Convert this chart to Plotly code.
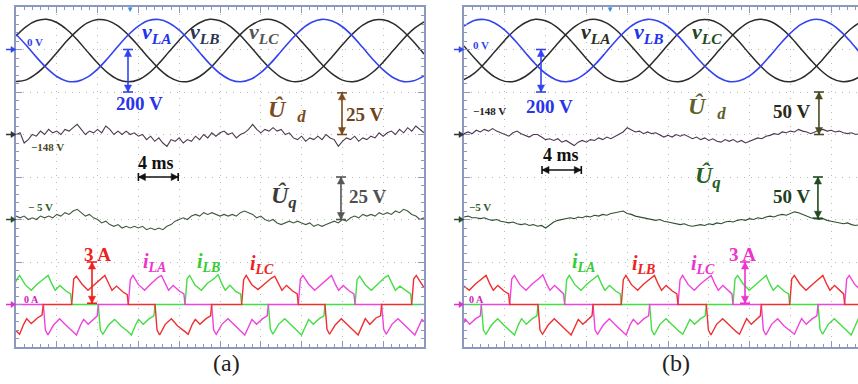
import plotly.graph_objects as go

# ---------------------------------------------------------------- data
# sampling instants (ms)
T_V = list(range(0, 41))                        # line voltages, 1 ms
T_U = [round(0.4 * k, 1) for k in range(101)]   # Ud / Uq, 0.4 ms

# ----- panel (a): line voltages (V)
VLA_A = [72, 20, -36, -87, -127, -149, -150, -130, -92, -41, 15, 68, 110, 136, 141, 125, 91, 42, -14, -68,
         -113, -142, -152, -140, -109, -63, -8, 47, 95, 128, 142, 134, 107, 63, 9, -47, -96, -133, -151, -147, -124]
VLB_A = [64, 108, 135, 142, 127, 93, 46, -10, -64, -110, -141, -152, -142, -112, -66, -11, 44, 92, 126, 142,
         135, 109, 66, 13, -43, -93, -131, -150, -148, -126, -86, -34, 22, 74, 115, 138, 140, 122, 85, 35, -21]
VLC_A = [-151, -143, -114, -70, -15, 41, 89, 125, 141, 136, 111, 69, 17, -39, -90, -129, -150, -149, -127, -89,
         -37, 18, 71, 112, 137, 141, 124, 88, 38, -17, -71, -115, -144, -152, -139, -106, -59, -4, 51, 97, 130]

# ----- panel (a): estimated Ud, Uq (V)
UD_A = [-148, -147, -153, -151, -148, -149, -146, -148, -145, -147,
        -146, -148, -145, -146, -144, -142, -145, -148, -146, -147,
        -145, -147, -143, -145, -148, -146, -148, -146, -148, -147,
        -149, -148, -151, -149, -152, -150, -153, -155, -151, -152,
        -150, -153, -151, -152, -149, -151, -148, -150, -147, -149,
        -147, -146, -148, -147, -150, -148, -147, -145, -142, -145,
        -147, -145, -146, -144, -146, -145, -148, -147, -150, -151,
        -149, -152, -150, -151, -149, -151, -148, -150, -151, -155,
        -152, -150, -151, -149, -152, -150, -151, -149, -150, -147,
        -149, -147, -146, -148, -145, -147, -144, -146, -143, -145,
        -147]
UQ_A = [-3, -4, -3, -5, -4, -5, -3, -4, -3, -4,
        -2, -3, -1, -2, 0, 1, -1, -3, -2, -4,
        -5, -7, -6, -8, -9, -8, -10, -9, -10, -9,
        -10, -9, -11, -10, -11, -10, -11, -9, -8, -6,
        -5, -4, -5, -3, -2, -3, -1, -2, -1, -2,
        -3, -2, -3, -2, -3, -1, 0, -1, -2, -4,
        -3, -5, -6, -5, -7, -8, -7, -6, -7, -6,
        -7, -8, -7, -9, -8, -9, -8, -7, -6, -7,
        -5, -6, -4, -3, -4, -2, -3, -2, -3, -1,
        -2, -1, -2, 0, -1, 1, 0, -2, -3, -5,
        -4]

# ----- panel (a): line currents (A), breakpoints (ms)
ILB_A_T = [0.0, 0.1, 0.35, 0.9, 1.5, 2.1, 2.8, 3.15, 3.55, 3.85, 4.3, 4.9, 5.35, 5.46,
           8.07, 8.27, 8.52, 9.07, 9.67, 10.27, 10.97, 11.32, 11.72, 12.02, 12.47, 13.07, 13.52, 13.63,
           16.57, 16.77, 17.02, 17.57, 18.17, 18.77, 19.47, 19.82, 20.22, 20.52, 20.97, 21.57, 22.02, 22.12,
           24.74, 24.94, 25.19, 25.74, 26.34, 26.94, 27.64, 27.99, 28.39, 28.69, 29.14, 29.74, 30.19, 30.29,
           33.24, 33.44, 33.69, 34.24, 34.84, 35.44, 36.14, 36.49, 36.89, 37.19, 37.64, 38.24, 38.69, 38.79,
           40.0]
ILB_A = [1.6, 1.8, 2.05, 1.4, 1.0, 1.45, 1.85, 2.05, 1.4, 1.0, 1.35, 0.95, 0.75, 0,
         0, -1.8, -2.1, -1.45, -1.05, -1.5, -1.9, -2.15, -1.45, -1.05, -1.4, -1.0, -0.8, 0,
         0, 1.8, 2.05, 1.35, 1.0, 1.5, 1.85, 2.1, 1.4, 1.0, 1.35, 0.9, 0.75, 0,
         0, -1.75, -2.1, -1.4, -1.0, -1.45, -1.9, -2.15, -1.45, -1.05, -1.4, -1.0, -0.8, 0,
         0, 1.75, 2.0, 1.4, 1.0, 1.45, 1.9, 2.05, 1.4, 1.0, 1.3, 0.95, 0.75, 0,
         0]
ILC_A_T = [0.0, 0.35, 0.75, 1.05, 1.5, 2.1, 2.55, 2.68,
           5.46, 5.66, 5.91, 6.46, 7.06, 7.66, 8.36, 8.71, 9.11, 9.41, 9.86, 10.46, 10.91, 11.01,
           13.63, 13.83, 14.08, 14.63, 15.23, 15.83, 16.53, 16.88, 17.28, 17.58, 18.03, 18.63, 19.08, 19.18,
           22.12, 22.32, 22.57, 23.12, 23.72, 24.32, 25.02, 25.37, 25.77, 26.07, 26.52, 27.12, 27.57, 27.68,
           30.29, 30.49, 30.74, 31.29, 31.89, 32.49, 33.19, 33.54, 33.94, 34.24, 34.69, 35.29, 35.74, 35.85,
           38.79, 38.99, 39.24, 39.79, 40.0]
ILC_A = [-1.85, -2.1, -1.4, -1.0, -1.35, -0.95, -0.75, 0,
         0, 1.8, 2.0, 1.45, 1.0, 1.4, 1.85, 2.05, 1.45, 1.0, 1.3, 0.9, 0.7, 0,
         0, -1.8, -2.15, -1.4, -1.0, -1.5, -1.9, -2.1, -1.4, -1.05, -1.4, -1.0, -0.8, 0,
         0, 1.75, 2.05, 1.4, 1.05, 1.45, 1.85, 2.0, 1.4, 1.0, 1.35, 0.95, 0.75, 0,
         0, -1.75, -2.1, -1.45, -1.0, -1.45, -1.9, -2.15, -1.45, -1.0, -1.4, -0.95, -0.8, 0,
         0, 1.8, 2.05, 1.4, 1.2]
ILA_A_T = [0.0, 2.68, 2.88, 3.13, 3.68, 4.28, 4.88, 5.58, 5.93, 6.33, 6.63, 7.08, 7.63, 7.97, 8.07,
           11.01, 11.21, 11.46, 12.01, 12.61, 13.21, 13.91, 14.26, 14.66, 14.96, 15.41, 16.01, 16.46, 16.57,
           19.18, 19.38, 19.63, 20.18, 20.78, 21.38, 22.08, 22.43, 22.83, 23.13, 23.58, 24.18, 24.63, 24.74,
           27.68, 27.88, 28.13, 28.68, 29.28, 29.88, 30.58, 30.93, 31.33, 31.63, 32.08, 32.68, 33.13, 33.24,
           35.85, 36.05, 36.3, 36.85, 37.45, 38.05, 38.75, 39.1, 39.5, 39.8, 40.0]
ILA_A = [0, 0, -1.8, -2.15, -1.45, -1.0, -1.45, -1.9, -2.15, -1.45, -1.05, -1.4, -1.0, -0.8, 0,
         0, 1.75, 2.05, 1.4, 1.0, 1.45, 1.9, 2.05, 1.4, 1.0, 1.35, 0.95, 0.75, 0,
         0, -1.8, -2.1, -1.4, -1.0, -1.45, -1.9, -2.15, -1.45, -1.05, -1.4, -1.0, -0.8, 0,
         0, 1.8, 2.05, 1.45, 1.0, 1.4, 1.85, 2.05, 1.4, 1.0, 1.35, 0.95, 0.75, 0,
         0, -1.75, -2.1, -1.4, -1.0, -1.45, -1.9, -2.15, -1.45, -1.05, -1.2]

# ----- panel (b): line voltages (V)
VLA_B = [17, -39, -90, -129, -150, -149, -127, -89, -37, 18, 71, 112, 137, 141, 124, 88, 38, -17, -71, -115,
         -144, -152, -139, -106, -59, -4, 51, 97, 130, 142, 133, 104, 60, 5, -50, -99, -135, -151, -146, -121, -79]
VLB_B = [110, 136, 141, 125, 91, 42, -14, -68, -113, -142, -152, -140, -109, -63, -8, 47, 95, 128, 142, 134,
         107, 63, 9, -47, -96, -133, -151, -147, -124, -83, -30, 26, 77, 117, 139, 140, 120, 82, 31, -25, -78]
VLC_B = [-142, -112, -66, -11, 44, 92, 126, 142, 135, 109, 66, 13, -43, -93, -131, -150, -148, -126, -86, -34,
         22, 74, 115, 138, 140, 122, 85, 35, -21, -74, -118, -145, -152, -137, -104, -56, 0, 54, 100, 131, 142]

# ----- panel (b): estimated Ud, Uq (V)
UD_B = [-147, -145, -147, -143, -145, -142, -144, -141, -144, -146,
        -148, -150, -146, -144, -147, -149, -151, -148, -148, -151,
        -154, -153, -155, -153, -157, -155, -158, -161, -157, -155,
        -157, -154, -155, -152, -154, -151, -153, -150, -147, -145,
        -140, -143, -145, -144, -147, -145, -147, -146, -149, -151,
        -149, -151, -148, -150, -148, -151, -153, -151, -154, -152,
        -155, -153, -156, -157, -154, -156, -154, -157, -155, -158,
        -156, -154, -152, -153, -150, -149, -147, -148, -145, -146,
        -144, -145, -142, -144, -145, -147, -145, -143, -142, -144,
        -143, -145, -144, -146, -147, -146, -148, -147, -149, -150,
        -149]
UQ_B = [-2, -1, -3, -3, -4, -3, -5, -6, -5, -7,
        -8, -9, -8, -10, -11, -10, -12, -11, -13, -12,
        -15, -11, -8, -6, -5, -4, -3, -4, -2, -3,
        -1, -2, 0, -1, 1, 0, 2, 3, 4, 5,
        2, 1, -1, -2, -3, -4, -5, -6, -5, -7,
        -8, -9, -10, -11, -10, -12, -13, -12, -11, -12,
        -10, -11, -9, -10, -8, -7, -8, -6, -5, -6,
        -4, -5, -3, -4, -2, -1, -2, 0, 1, 0,
        2, 4, 3, 1, -1, -3, -4, -5, -4, -6,
        -7, -8, -9, -10, -9, -11, -12, -11, -13, -12,
        -13]

# ----- panel (b): line currents (A), breakpoints (ms)
ILB_B_T = [0.0, 0.52, 1.12, 1.82, 2.17, 2.57, 2.87, 3.32, 3.92, 4.37, 4.48,
           7.25, 7.45, 7.7, 8.25, 8.85, 9.45, 10.15, 10.5, 10.9, 11.2, 11.65, 12.2, 12.55, 12.65,
           15.42, 15.62, 15.87, 16.42, 17.02, 17.62, 18.32, 18.67, 19.07, 19.37, 19.82, 20.42, 20.87, 20.98,
           23.76, 23.96, 24.21, 24.76, 25.36, 25.96, 26.66, 27.01, 27.41, 27.71, 28.16, 28.71, 29.05, 29.15,
           31.93, 32.13, 32.38, 32.93, 33.53, 34.13, 34.83, 35.18, 35.58, 35.88, 36.33, 36.88, 37.22, 37.32,
           40.0]
ILB_B = [1.3, 1.0, 1.45, 1.85, 2.05, 1.4, 1.0, 1.35, 0.95, 0.75, 0,
         0, -1.8, -2.1, -1.45, -1.0, -1.45, -1.9, -2.15, -1.45, -1.05, -1.4, -1.0, -0.8, 0,
         0, 1.75, 2.05, 1.4, 1.0, 1.45, 1.85, 2.05, 1.4, 1.0, 1.35, 0.95, 0.75, 0,
         0, -1.8, -2.15, -1.4, -1.0, -1.45, -1.9, -2.1, -1.45, -1.0, -1.4, -1.0, -0.8, 0,
         0, 1.8, 2.05, 1.45, 1.0, 1.4, 1.85, 2.05, 1.4, 1.0, 1.35, 0.95, 0.75, 0,
         0]
ILC_B_T = [0.0, 0.1, 0.55, 1.15, 1.6, 1.7,
           4.48, 4.68, 4.93, 5.48, 6.08, 6.68, 7.38, 7.73, 8.13, 8.43, 8.88, 9.43, 9.77, 9.87,
           12.65, 12.85, 13.1, 13.65, 14.25, 14.85, 15.55, 15.9, 16.3, 16.6, 17.05, 17.65, 18.1, 18.2,
           20.98, 21.18, 21.43, 21.98, 22.58, 23.18, 23.88, 24.23, 24.63, 24.93, 25.38, 25.93, 26.27, 26.37,
           29.15, 29.35, 29.6, 30.15, 30.75, 31.35, 32.05, 32.4, 32.8, 33.1, 33.55, 34.15, 34.6, 34.71,
           37.32, 37.52, 37.77, 38.32, 38.92, 39.52, 40.0]
ILC_B = [-1.3, -1.0, -1.4, -1.0, -0.8, 0,
         0, 1.8, 2.05, 1.4, 1.0, 1.45, 1.85, 2.1, 1.4, 1.0, 1.35, 0.95, 0.75, 0,
         0, -1.8, -2.1, -1.45, -1.0, -1.45, -1.9, -2.15, -1.4, -1.05, -1.4, -1.0, -0.8, 0,
         0, 1.75, 2.05, 1.4, 1.0, 1.45, 1.85, 2.05, 1.4, 1.0, 1.35, 0.95, 0.75, 0,
         0, -1.8, -2.15, -1.4, -1.0, -1.5, -1.9, -2.1, -1.45, -1.0, -1.4, -1.0, -0.8, 0,
         0, 1.8, 2.05, 1.4, 1.0, 1.45, 1.7]
ILA_B_T = [0.0, 1.7, 1.9, 2.15, 2.7, 3.3, 3.9, 4.6, 4.95, 5.35, 5.65, 6.1, 6.7, 7.15, 7.25,
           9.87, 10.07, 10.32, 10.87, 11.47, 12.07, 12.77, 13.12, 13.52, 13.82, 14.27, 14.87, 15.32, 15.42,
           18.2, 18.4, 18.65, 19.2, 19.8, 20.4, 21.1, 21.45, 21.85, 22.15, 22.6, 23.2, 23.65, 23.76,
           26.37, 26.57, 26.82, 27.37, 27.97, 28.57, 29.27, 29.62, 30.02, 30.32, 30.77, 31.37, 31.82, 31.93,
           34.71, 34.91, 35.16, 35.71, 36.31, 36.91, 37.61, 37.96, 38.36, 38.66, 39.11, 39.71, 40.0]
ILA_B = [0, 0, -1.8, -2.1, -1.45, -1.0, -1.45, -1.9, -2.15, -1.4, -1.0, -1.4, -1.0, -0.8, 0,
         0, 1.75, 2.05, 1.4, 1.0, 1.45, 1.85, 2.05, 1.4, 1.0, 1.35, 0.95, 0.75, 0,
         0, -1.8, -2.15, -1.4, -1.0, -1.45, -1.9, -2.1, -1.45, -1.05, -1.4, -1.0, -0.8, 0,
         0, 1.8, 2.05, 1.45, 1.0, 1.4, 1.85, 2.05, 1.4, 1.0, 1.35, 0.95, 0.75, 0,
         0, -1.75, -2.1, -1.4, -1.0, -1.45, -1.9, -2.15, -1.45, -1.0, -1.4, -1.0, -0.9]

# scope channel settings: (units per division, offset value, ground position in divisions)
CH_A = {"v": (200, 0, 3), "ud": (25, -148, 1), "uq": (25, -5, -1), "i": (3, 0, -3)}
CH_B = {"v": (200, 0, 3), "ud": (50, -148, 1), "uq": (50, -5, -1), "i": (3, 0, -3)}

# ---------------------------------------------------------------- styles
W, H = 858, 384
FRAME = "#8d98c0"
GRID = "#b8b8b8"
SERIF = "Liberation Serif"
BLUE = "#3344ee"
BLACK = "#2b2b2b"
RED = "#ee3030"
GREEN = "#44dd44"
MAG = "#ee44dd"
PX_PER_MS = 10.2
PX_PER_DIV = 42.5


def chan_range(spec):
    scale, offset, pos = spec
    return [offset + (-4 - pos) * scale, offset + (4 - pos) * scale]


fig = go.Figure()


def add(x, y, xa, ya, color, width, name, spline=False):
    fig.add_trace(go.Scatter(
        x=x, y=y, xaxis=xa, yaxis=ya, mode="lines", name=name,
        line=dict(color=color, width=width, shape="spline" if spline else "linear"),
        hoverinfo="skip", showlegend=False))


# panel (a)
add(T_V, VLB_A, "x", "y3", BLACK, 1.5, "vLB", True)
add(T_V, VLC_A, "x", "y3", BLACK, 1.5, "vLC", True)
add(T_V, VLA_A, "x", "y3", BLUE, 1.6, "vLA", True)
add(T_U, UD_A, "x", "y4", "#4d3a4d", 1.1, "Ud")
add(T_U, UQ_A, "x", "y5", "#3f5a3f", 1.1, "Uq")
add(ILB_A_T, ILB_A, "x", "y6", GREEN, 1.4, "iLB")
add(ILA_A_T, ILA_A, "x", "y6", MAG, 1.4, "iLA")
add(ILC_A_T, ILC_A, "x", "y6", RED, 1.4, "iLC")

# panel (b)
add(T_V, VLA_B, "x2", "y7", BLACK, 1.5, "vLA", True)
add(T_V, VLC_B, "x2", "y7", BLACK, 1.5, "vLC", True)
add(T_V, VLB_B, "x2", "y7", BLUE, 1.6, "vLB", True)
add(T_U, UD_B, "x2", "y8", "#4a3650", 1.1, "Ud")
add(T_U, UQ_B, "x2", "y9", "#2f4f2f", 1.1, "Uq")
add(ILA_B_T, ILA_B, "x2", "y10", GREEN, 1.4, "iLA")
add(ILC_B_T, ILC_B, "x2", "y10", MAG, 1.4, "iLC")
add(ILB_B_T, ILB_B, "x2", "y10", RED, 1.4, "iLB")


# ---------------------------------------------------------------- axes
def grat(dtick, minor_dtick, rng, domain, anchor, mirror):
    return dict(domain=domain, range=rng, anchor=anchor, dtick=dtick, tick0=0,
                showticklabels=False, zeroline=False, showline=True, linecolor=FRAME,
                linewidth=1.5, mirror=mirror, ticks="inside", tickcolor=FRAME,
                ticklen=6, tickwidth=1, showgrid=True, gridcolor=GRID, gridwidth=1,
                griddash="1px,6px", fixedrange=True,
                minor=dict(dtick=minor_dtick, ticks="inside", ticklen=3,
                           tickcolor=FRAME, tickwidth=1, showgrid=False))


YDOM = [37 / H, 377 / H]
layout = dict(
    width=W, height=H, autosize=False, margin=dict(l=0, r=0, t=0, b=0),
    paper_bgcolor="white", plot_bgcolor="white", showlegend=False,
    xaxis=grat(4, 0.8, [0, 40], [16 / W, 424 / W], "y", "ticks"),
    yaxis=grat(1, 0.2, [-4, 4], YDOM, "x", "ticks"),
    xaxis2=grat(4, 0.8, [0, (W - 464) / PX_PER_MS], [464 / W, 1.0], "y2", "ticks"),
    yaxis2=grat(1, 0.2, [-4, 4], YDOM, "x2", False),
)
for n, (key, base, xa, ch) in enumerate(
        [("v", "y", "x", CH_A), ("ud", "y", "x", CH_A), ("uq", "y", "x", CH_A), ("i", "y", "x", CH_A),
         ("v", "y2", "x2", CH_B), ("ud", "y2", "x2", CH_B), ("uq", "y2", "x2", CH_B), ("i", "y2", "x2", CH_B)]):
    layout["yaxis%d" % (n + 3)] = dict(overlaying=base, anchor=xa, range=chan_range(ch[key]),
                                       visible=False, fixedrange=True)
fig.update_layout(**layout)

# ---------------------------------------------------------------- annotations
ann = []
shapes = []


def label(xr, yr, x, y, text, size, color):
    ann.append(dict(xref=xr, yref=yr, x=x, y=y, text=text, showarrow=False,
                    font=dict(family=SERIF, size=size, color=color),
                    xanchor="center", yanchor="middle"))


def line(xr, yr, x0, y0, x1, y1, color, w=1.6):
    shapes.append(dict(type="line", xref=xr, yref=yr, x0=x0, y0=y0, x1=x1, y1=y1,
                       line=dict(color=color, width=w)))


def tri(xr, yr, pts, color):
    path = "M %s Z" % " L ".join("%.4f,%.4f" % p for p in pts)
    shapes.append(dict(type="path", xref=xr, yref=yr, path=path, fillcolor=color,
                       line=dict(color=color, width=0.5)))


HEAD_L = 7.0   # px
HEAD_W = 3.6   # px (half width)


def varrow(xr, yr, x, y0, y1, color, cap=5.0):
    hl = HEAD_L / PX_PER_DIV
    hw = HEAD_W / PX_PER_MS
    cw = cap / PX_PER_MS
    line(xr, yr, x, y0, x, y1, color)
    for yy, d in ((y0, -1 if y0 > y1 else 1), (y1, -1 if y1 > y0 else 1)):
        line(xr, yr, x - cw, yy, x + cw, yy, color)
        tri(xr, yr, [(x, yy), (x - hw, yy + d * hl), (x + hw, yy + d * hl)], color)


def harrow(xr, yr, x0, x1, y, color, cap=4.0):
    hl = HEAD_L / PX_PER_MS
    hw = HEAD_W / PX_PER_DIV
    ch = cap / PX_PER_DIV
    line(xr, yr, x0, y, x1, y, color)
    for xx, d in ((x0, 1), (x1, -1)):
        line(xr, yr, xx, y - ch, xx, y + ch, color)
        tri(xr, yr, [(xx, y), (xx + d * hl, y - hw), (xx + d * hl, y + hw)], color)


def marker(border_px, div, color):
    # channel ground indicator left of the graticule (paper coordinates)
    py = 7 + (4 - div) * PX_PER_DIV
    yp = (H - py) / H
    tip = border_px / W
    base = (border_px - 5) / W
    tail = (border_px - 10) / W
    dy = 3.0 / H
    line("paper", "paper", tail, yp, base, yp, color, 1.5)
    tri("paper", "paper", [(tip, yp), (base, yp + dy), (base, yp - dy)], color)


def vsub(base, sub):
    return "<b><i>%s</i><sub><i>%s</i></sub></b>" % (base, sub)


HAT_D = "<b><i>\u00db</i></b>  <sub><b><i>d</i></b></sub>"
HAT_Q = "<b><i>\u00db</i><sub><i>q</i></sub></b>"
MINUS = "\u2212"

# ----- panel (a)
A = ("x", "y")
label(*A, 1.9, 3.18, "<b>0 V</b>", 11, BLUE)
label(*A, 13.8, 3.38, vsub("v", "LA"), 22, "#2233ee")
label(*A, 18.5, 3.38, vsub("v", "LB"), 22, "#2c3550")
label(*A, 24.3, 3.38, vsub("v", "LC"), 22, "#555555")
label(*A, 12.1, 1.74, "<b>200 V</b>", 19, "#2a35e8")
label(*A, 26.6, 1.55, HAT_D, 24, "#7b4a1c")
label(*A, 34.2, 1.46, "<b>25 V</b>", 19, "#6e4420")
label(*A, 3.1, 0.70, "<b>%s148 V</b>" % MINUS, 11, "#4a4a2a")
label(*A, 13.7, 0.33, "<b>4 ms</b>", 18, "#111111")
label(*A, 26.3, -0.47, HAT_Q, 24, "#3a3a3a")
label(*A, 34.5, -0.47, "<b>25 V</b>", 19, "#505050")
label(*A, 2.4, -0.70, "<b>%s 5 V</b>" % MINUS, 11, "#2e5e2e")
label(*A, 8.0, -1.83, "<b>3 A</b>", 19, "#ee2020")
label(*A, 13.6, -2.0, vsub("i", "LA"), 20, "#ee33cc")
label(*A, 18.9, -2.0, vsub("i", "LB"), 20, "#33cc33")
label(*A, 24.1, -2.05, vsub("i", "LC"), 20, "#ee2222")
label(*A, 1.5, -2.89, "<b>0 A</b>", 10, "#cc22bb")
varrow(*A, 10.98, 3.0, 2.0, BLUE)
varrow(*A, 31.96, 1.98, 1.0, "#7b4a1c")
varrow(*A, 31.86, 0.0, -1.0, "#555555")
varrow(*A, 7.45, -2.0, -2.97, "#ee2020")
harrow(*A, 12.0, 15.9, 0.0, "#111111")
marker(16, 3, BLUE)
marker(16, 1, "#333333")
marker(16, -1, "#2e4e2e")
marker(16, -3, "#dd33cc")
label(*A, 11.18, 3.93, "\u25BC", 8, "#2b8fe0")

# ----- panel (b)
B = ("x2", "y2")
label(*B, 1.7, 3.11, "<b>0 V</b>", 11, BLUE)
label(*B, 12.85, 3.38, vsub("v", "LA"), 22, "#2e2e1e")
label(*B, 18.1, 3.38, vsub("v", "LB"), 22, "#2233ee")
label(*B, 23.8, 3.38, vsub("v", "LC"), 22, "#1f4a1f")
label(*B, 2.5, 1.55, "<b>%s148 V</b>" % MINUS, 11, "#222222")
label(*B, 8.35, 1.67, "<b>200 V</b>", 19, "#2a35e8")
label(*B, 23.8, 1.62, HAT_D, 24, "#5e5e2a")
label(*B, 32.1, 1.53, "<b>50 V</b>", 19, "#2a2a1a")
label(*B, 9.5, 0.52, "<b>4 ms</b>", 18, "#111111")
label(*B, 23.9, 0.0, HAT_Q, 24, "#246024")
label(*B, 32.1, -0.47, "<b>50 V</b>", 19, "#1f401f")
label(*B, 1.6, -0.70, "<b>%s5 V</b>" % MINUS, 11, "#2e5e2e")
label(*B, 11.7, -2.02, vsub("i", "LA"), 20, "#33cc33")
label(*B, 17.6, -2.05, vsub("i", "LB"), 20, "#ee2222")
label(*B, 23.4, -2.05, vsub("i", "LC"), 20, "#ee33cc")
label(*B, 27.35, -1.83, "<b>3 A</b>", 19, "#ee33cc")
label(*B, 1.2, -2.89, "<b>0 A</b>", 10, "#cc22bb")
varrow(*B, 7.55, 3.0, 2.0, BLUE)
varrow(*B, 34.8, 2.0, 1.0, "#4a4a22")
varrow(*B, 34.7, 0.0, -0.97, "#1f4a1f")
varrow(*B, 27.55, -2.0, -2.97, "#ee33cc")
harrow(*B, 7.65, 11.5, 0.165, "#111111")
marker(464, 3, BLUE)
marker(464, 1, "#333333")
marker(464, -1, "#2e4e2e")
marker(464, -3, "#dd33cc")
label(*B, 14.3, 3.93, "\u25BC", 8, "#2b8fe0")

# sub-figure captions
for txt, px in (("(a)", 227), ("(b)", 676)):
    ann.append(dict(xref="paper", yref="paper", x=px / W, y=(H - 363) / H, text=txt,
                    showarrow=False, font=dict(family=SERIF, size=24, color="#222222"),
                    xanchor="center", yanchor="middle"))

fig.update_layout(annotations=ann, shapes=shapes)
fig.write_html("out.html", config={"displayModeBar": False},
               post_script="document.body.style.margin='0';document.body.style.padding='0';")
